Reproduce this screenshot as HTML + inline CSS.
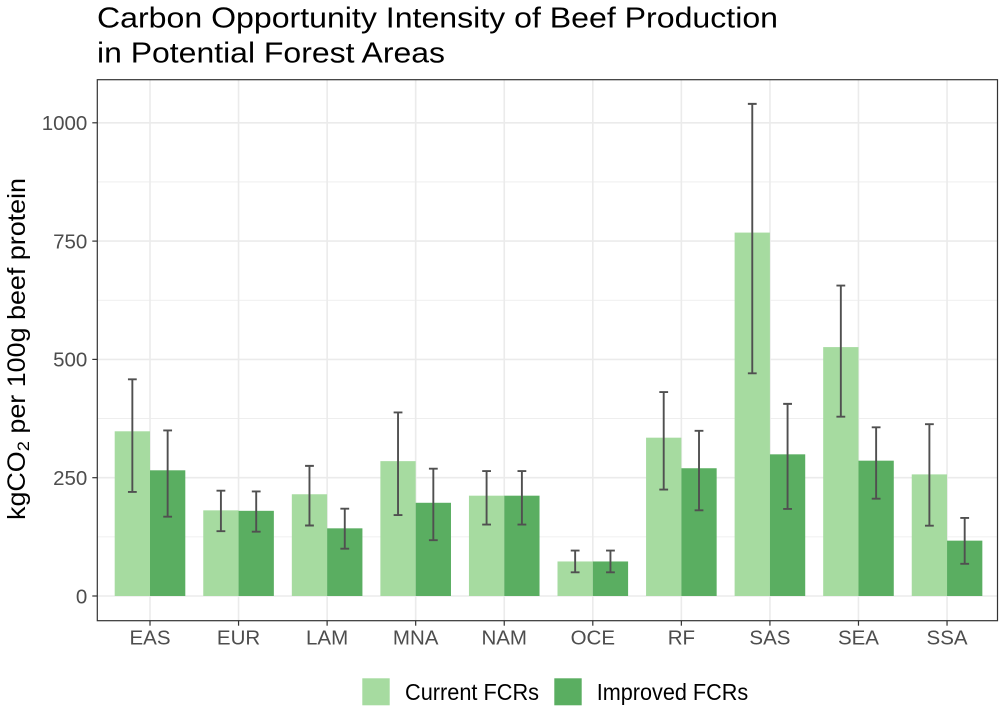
<!DOCTYPE html>
<html>
<head>
<meta charset="utf-8">
<style>
  html, body { margin:0; padding:0; background:#ffffff; }
  svg { display:block; }
  text { font-family: "Liberation Sans", Arial, sans-serif; }
</style>
</head>
<body>
<svg width="1000" height="716" viewBox="0 0 1000 716" xmlns="http://www.w3.org/2000/svg">
  <rect x="0" y="0" width="1000" height="716" fill="#ffffff"/>

  <!-- Title -->
  <text x="97" y="27.5" font-size="28.5" fill="#000" textLength="681" lengthAdjust="spacingAndGlyphs">Carbon Opportunity Intensity of Beef Production</text>
  <text x="97" y="62.7" font-size="28.5" fill="#000" textLength="348" lengthAdjust="spacingAndGlyphs">in Potential Forest Areas</text>

  <!-- Panel background -->
  <rect x="97.3" y="79.7" width="900.2" height="541" fill="#ffffff"/>

  <!-- Minor grid -->
  <g stroke="#ebebeb" stroke-width="0.8">
    <line x1="97.3" x2="997.5" y1="536.85" y2="536.85"/>
    <line x1="97.3" x2="997.5" y1="418.55" y2="418.55"/>
    <line x1="97.3" x2="997.5" y1="300.25" y2="300.25"/>
    <line x1="97.3" x2="997.5" y1="181.95" y2="181.95"/>
  </g>
  <!-- Major grid -->
  <g stroke="#ebebeb" stroke-width="1.6">
    <line x1="97.3" x2="997.5" y1="596" y2="596"/>
    <line x1="97.3" x2="997.5" y1="477.7" y2="477.7"/>
    <line x1="97.3" x2="997.5" y1="359.4" y2="359.4"/>
    <line x1="97.3" x2="997.5" y1="241.1" y2="241.1"/>
    <line x1="97.3" x2="997.5" y1="122.8" y2="122.8"/>
    <line y1="79.7" y2="620.7" x1="150" x2="150"/>
    <line y1="79.7" y2="620.7" x1="238.56" x2="238.56"/>
    <line y1="79.7" y2="620.7" x1="327.12" x2="327.12"/>
    <line y1="79.7" y2="620.7" x1="415.68" x2="415.68"/>
    <line y1="79.7" y2="620.7" x1="504.24" x2="504.24"/>
    <line y1="79.7" y2="620.7" x1="592.8" x2="592.8"/>
    <line y1="79.7" y2="620.7" x1="681.36" x2="681.36"/>
    <line y1="79.7" y2="620.7" x1="769.92" x2="769.92"/>
    <line y1="79.7" y2="620.7" x1="858.48" x2="858.48"/>
    <line y1="79.7" y2="620.7" x1="947.04" x2="947.04"/>
  </g>

  <!-- Bars: Current FCRs -->
  <g fill="#a6dba0">
    <rect x="114.7" y="431.3" width="35.3" height="164.7"/>
    <rect x="203.26" y="510.35" width="35.3" height="85.65"/>
    <rect x="291.82" y="494.26" width="35.3" height="101.74"/>
    <rect x="380.38" y="461.14" width="35.3" height="134.86"/>
    <rect x="468.94" y="495.68" width="35.3" height="100.32"/>
    <rect x="557.5" y="561.46" width="35.3" height="34.54"/>
    <rect x="646.06" y="437.67" width="35.3" height="158.33"/>
    <rect x="734.62" y="232.58" width="35.3" height="363.42"/>
    <rect x="823.18" y="347.1" width="35.3" height="248.9"/>
    <rect x="911.74" y="474.39" width="35.3" height="121.61"/>
  </g>
  <!-- Bars: Improved FCRs -->
  <g fill="#5aae61">
    <rect x="150" y="470.3" width="35.3" height="125.7"/>
    <rect x="238.56" y="510.82" width="35.3" height="85.18"/>
    <rect x="327.12" y="528.33" width="35.3" height="67.67"/>
    <rect x="415.68" y="502.78" width="35.3" height="93.22"/>
    <rect x="504.24" y="495.68" width="35.3" height="100.32"/>
    <rect x="592.8" y="561.46" width="35.3" height="34.54"/>
    <rect x="681.36" y="468.24" width="35.3" height="127.76"/>
    <rect x="769.92" y="454.33" width="35.3" height="141.67"/>
    <rect x="858.48" y="460.67" width="35.3" height="135.33"/>
    <rect x="947.04" y="540.64" width="35.3" height="55.36"/>
  </g>

  <!-- Error bars -->
  <g stroke="#505050" stroke-width="1.9" fill="none">
    <path d="M127.95 379.3H136.75M132.35 379.3V491.9M127.95 491.9H136.75"/>
    <path d="M163.25 430.4H172.05M167.65 430.4V516.7M163.25 516.7H172.05"/>

    <path d="M216.51 490.71H225.31M220.91 490.71V531.17M216.51 531.17H225.31"/>
    <path d="M251.81 491.42H260.61M256.21 491.42V531.64M251.81 531.64H260.61"/>

    <path d="M305.07 465.87H313.87M309.47 465.87V525.49M305.07 525.49H313.87"/>
    <path d="M340.37 508.7H349.17M344.77 508.7V548.68M340.37 548.68H349.17"/>

    <path d="M393.63 412.4H402.43M398.03 412.4V515.08M393.63 515.08H402.43"/>
    <path d="M428.93 468.71H437.73M433.33 468.71V540.16M428.93 540.16H437.73"/>

    <path d="M482.19 471.08H490.99M486.59 471.08V524.55M482.19 524.55H490.99"/>
    <path d="M517.49 471.08H526.29M521.89 471.08V524.55M517.49 524.55H526.29"/>

    <path d="M570.75 550.57H579.55M575.15 550.57V572.34M570.75 572.34H579.55"/>
    <path d="M606.05 550.57H614.85M610.45 550.57V572.34M606.05 572.34H614.85"/>

    <path d="M659.31 392.05H668.11M663.71 392.05V489.53M659.31 489.53H668.11"/>
    <path d="M694.61 430.85H703.41M699.01 430.85V510.35M694.61 510.35H703.41"/>

    <path d="M747.87 103.87H756.67M752.27 103.87V373.31M747.87 373.31H756.67"/>
    <path d="M783.17 403.88H791.97M787.57 403.88V508.93M783.17 508.93H791.97"/>

    <path d="M836.43 285.58H845.23M840.83 285.58V416.66M836.43 416.66H845.23"/>
    <path d="M871.73 427.31H880.53M876.13 427.31V498.71M871.73 498.71H880.53"/>

    <path d="M924.99 424.23H933.79M929.39 424.23V525.68M924.99 525.68H933.79"/>
    <path d="M960.29 517.92H969.09M964.69 517.92V563.82M960.29 563.82H969.09"/>
  </g>

  <!-- Panel border -->
  <rect x="97.3" y="79.7" width="900.2" height="541" fill="none" stroke="#333333" stroke-width="1.2"/>

  <!-- Axis ticks -->
  <g stroke="#333333" stroke-width="1.2">
    <line x1="92.3" x2="97.3" y1="596" y2="596"/>
    <line x1="92.3" x2="97.3" y1="477.7" y2="477.7"/>
    <line x1="92.3" x2="97.3" y1="359.4" y2="359.4"/>
    <line x1="92.3" x2="97.3" y1="241.1" y2="241.1"/>
    <line x1="92.3" x2="97.3" y1="122.8" y2="122.8"/>
    <line y1="620.7" y2="625.7" x1="150" x2="150"/>
    <line y1="620.7" y2="625.7" x1="238.56" x2="238.56"/>
    <line y1="620.7" y2="625.7" x1="327.12" x2="327.12"/>
    <line y1="620.7" y2="625.7" x1="415.68" x2="415.68"/>
    <line y1="620.7" y2="625.7" x1="504.24" x2="504.24"/>
    <line y1="620.7" y2="625.7" x1="592.8" x2="592.8"/>
    <line y1="620.7" y2="625.7" x1="681.36" x2="681.36"/>
    <line y1="620.7" y2="625.7" x1="769.92" x2="769.92"/>
    <line y1="620.7" y2="625.7" x1="858.48" x2="858.48"/>
    <line y1="620.7" y2="625.7" x1="947.04" x2="947.04"/>
  </g>

  <!-- Y tick labels -->
  <g font-size="20.5" fill="#4d4d4d" text-anchor="end">
    <text x="87.3" y="603.3">0</text>
    <text x="87.3" y="485">250</text>
    <text x="87.3" y="366.7">500</text>
    <text x="87.3" y="248.4">750</text>
    <text x="87.3" y="130.1">1000</text>
  </g>

  <!-- X tick labels -->
  <g font-size="20.5" fill="#4d4d4d" text-anchor="middle">
    <text x="150" y="644.5">EAS</text>
    <text x="238.56" y="644.5">EUR</text>
    <text x="327.12" y="644.5">LAM</text>
    <text x="415.68" y="644.5">MNA</text>
    <text x="504.24" y="644.5">NAM</text>
    <text x="592.8" y="644.5">OCE</text>
    <text x="681.36" y="644.5">RF</text>
    <text x="769.92" y="644.5">SAS</text>
    <text x="858.48" y="644.5">SEA</text>
    <text x="947.04" y="644.5">SSA</text>
  </g>

  <!-- Y axis title -->
  <text transform="translate(25,349) rotate(-90)" x="0" y="0" font-size="25" fill="#000" text-anchor="middle" textLength="342" lengthAdjust="spacingAndGlyphs">kgCO<tspan font-size="17" dy="4">2</tspan><tspan dy="-4"> per 100g beef protein</tspan></text>

  <!-- Legend -->
  <rect x="362.3" y="678.3" width="27.4" height="27" fill="#a6dba0"/>
  <text x="405" y="700" font-size="23" fill="#000" textLength="134" lengthAdjust="spacingAndGlyphs">Current FCRs</text>
  <rect x="554.3" y="678.3" width="27.4" height="27" fill="#5aae61"/>
  <text x="596.7" y="700" font-size="23" fill="#000" textLength="151.5" lengthAdjust="spacingAndGlyphs">Improved FCRs</text>
</svg>
</body>
</html>
